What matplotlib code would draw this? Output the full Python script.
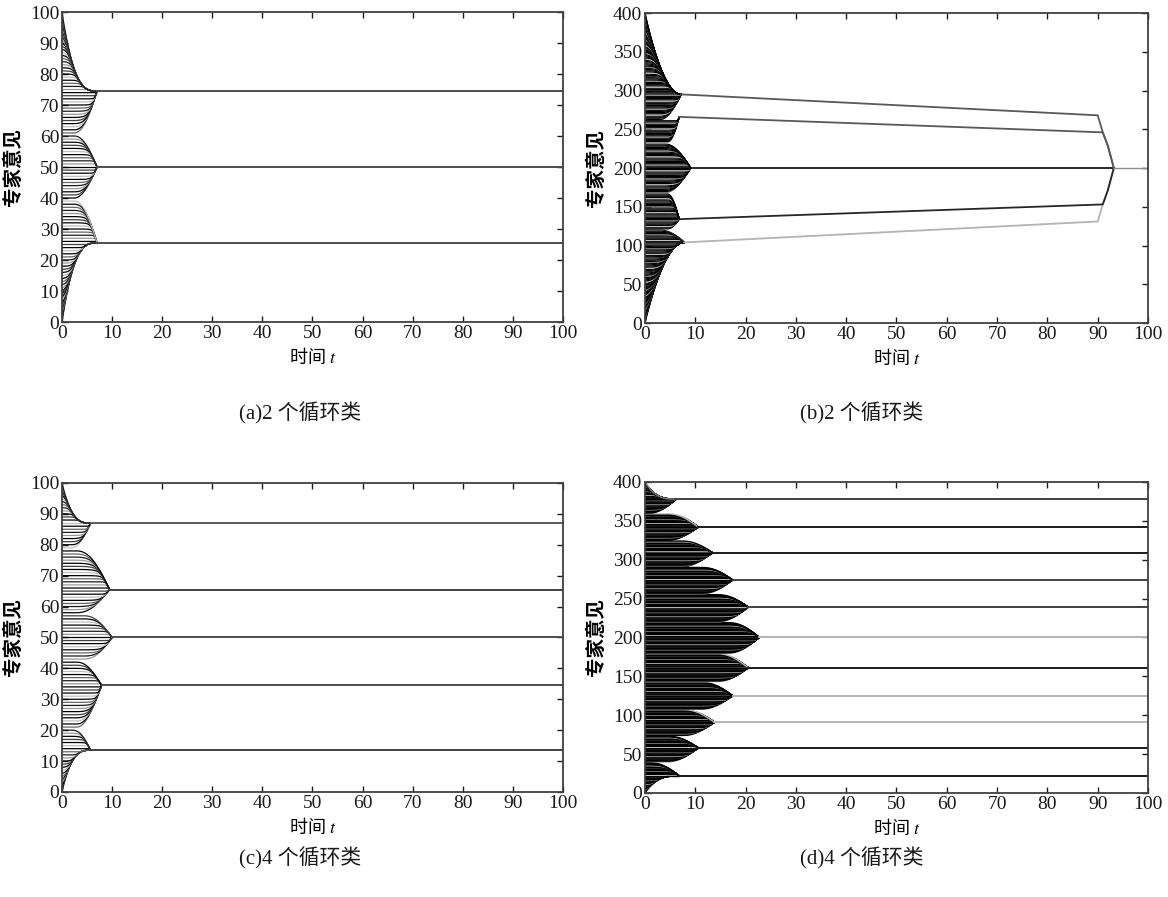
import matplotlib
matplotlib.use("Agg")
import matplotlib.pyplot as plt
import numpy as np

plt.rcParams["font.family"] = ["Liberation Serif", "Noto Sans CJK SC"]
plt.rcParams["mathtext.fontset"] = "stix"

# ---- panel (a): 3 clusters on 0..100
a_levels = [25.5, 50.0, 74.5]
a_bounds = [0, 40, 60.5, 100]
a_start = [2.5, 2.5, 2.5]
a_settle = [7.0, 7.0, 7.0]
a_colors = ["0.3", "0.3", "0.3"]

# ---- panel (b): 5 clusters on 0..400, drifting together at t~93
b_levels = [104, 134, 200, 266, 295]
b_bounds = [0, 121, 168, 232, 262, 400]
b_start = [3.0, 4.5, 4.0, 4.5, 3.0]
b_settle = [7.8, 6.8, 9.1, 6.8, 7.2]
b_colors = ["0.7", "0.15", "0.1", "0.35", "0.35"]
b_drift_t = [[7.8, 90, 91, 92, 93.2], [6.8, 91, 92, 93.2], [9.1, 93.2],
             [6.8, 91, 92, 93.2], [7.2, 90, 91, 92, 93.2]]
b_drift_y = [[104, 131, 153, 171, 200], [134, 153, 171, 200], [200, 200],
             [266, 246, 229, 200], [295, 268, 246, 229, 200]]
b_final_t = [93.2, 100]
b_final_y = [200, 200]

# ---- panel (c): 5 clusters on 0..100
c_levels = [13.5, 34.5, 50.0, 65.5, 87.0]
c_bounds = [0, 21, 42.5, 57.5, 79, 100]
c_start = [2.0, 3.0, 4.5, 3.0, 2.0]
c_settle = [5.7, 7.9, 10.0, 9.5, 5.7]
c_colors = ["0.25", "0.3", "0.3", "0.25", "0.35"]

# ---- panel (d): 11 clusters on 0..400
d_levels = [22, 58, 91, 125, 161, 200, 239, 274, 309, 342, 378]
d_bounds = [0, 40, 74, 108, 143, 180, 220, 256, 291, 325, 360, 400]
d_start = [1.0, 4.6, 7.8, 11.4, 14.5, 16.7, 14.5, 11.4, 7.4, 4.6, 1.0]
d_settle = [6.8, 10.6, 13.8, 17.4, 20.5, 22.7, 20.5, 17.4, 13.4, 10.6, 6.2]
d_colors = ["0.1", "0.1", "0.7", "0.7", "0.1", "0.7", "0.25", "0.25", "0.1", "0.1", "0.25"]

fan_shades = ["0.0", "0.25", "0.0", "0.6", "0.1", "0.4", "0.0", "0.75"]
dense_shades = ["0.0", "0.0", "0.0", "0.0", "0.5", "0.0", "0.0", "0.0",
                "0.15", "0.0", "0.0", "0.75"]


def draw_fan(ax, levels, bounds, start, settle, step, ymax, power, shades, lw):
    x0_all = np.arange(0, ymax + step * 0.5, step)
    basin = np.clip(np.searchsorted(bounds, x0_all, side="right") - 1,
                    0, len(levels) - 1)
    p = 4.0
    for i, x0 in enumerate(x0_all):
        k = basin[i]
        c, lo, hi = levels[k], bounds[k], bounds[k + 1]
        s, e = start[k], settle[k]
        t = np.linspace(0, e, int(e / 0.25) + 1)
        d = x0 - c
        if d < 0:
            r, edge = c - lo, lo == 0
        else:
            r, edge = hi - c, hi == ymax
        r = max(r, 1e-6)
        if edge:
            tau = np.clip(t / e, 0, 1)
            env = r * (1 - tau) ** power
        else:
            tau = np.clip((t - s) / (e - s), 0, 1)
            env = r * np.cos(np.pi / 2 * tau)
        env = np.maximum(env, 1e-6)
        a = max(abs(d), 1e-6)
        dist = (a ** -p + env ** -p - r ** -p) ** (-1 / p)
        y = c + np.sign(d) * dist
        ax.plot(t, y, color=shades[i % len(shades)], lw=lw)


def style_axes(ax, ymax, ystep):
    ax.set_xlim(0, 100)
    ax.set_ylim(0, ymax)
    ax.set_xticks(range(0, 101, 10))
    ax.set_yticks(range(0, ymax + 1, ystep))
    ax.tick_params(direction="in", top=True, right=True, length=4, width=1,
                   labelsize=14, pad=2, colors="0.1")
    for sp in ax.spines.values():
        sp.set_linewidth(1.3)
        sp.set_color("0.25")
    ax.set_ylabel("专家意见", fontsize=14, fontweight="bold",
                  family=["Noto Sans CJK SC"])
    ax.yaxis.set_label_coords(-0.078, 0.5)
    ax.set_xlabel("时间 $t$", fontsize=13, family=["Noto Sans CJK SC"],
                  labelpad=3)


fig = plt.figure(figsize=(11.68, 8.97), dpi=100)

ax_a = fig.add_axes([0.0531, 0.641, 0.4289, 0.3456])
draw_fan(ax_a, a_levels, a_bounds, a_start, a_settle, 1.0, 100, 3, fan_shades, 0.9)
for lv, st, col in zip(a_levels, a_settle, a_colors):
    ax_a.plot([st, 100], [lv, lv], color=col, lw=1.4)
style_axes(ax_a, 100, 10)

ax_b = fig.add_axes([0.5522, 0.6399, 0.4307, 0.3456])
draw_fan(ax_b, b_levels, b_bounds, b_start, b_settle, 1.5, 400, 2, dense_shades, 0.9)
for tt, yy, col in zip(b_drift_t, b_drift_y, b_colors):
    ax_b.plot(tt, yy, color=col, lw=1.3)
ax_b.plot(b_final_t, b_final_y, color="0.55", lw=1.0)
style_axes(ax_b, 400, 50)

ax_c = fig.add_axes([0.0531, 0.1171, 0.4289, 0.3445])
draw_fan(ax_c, c_levels, c_bounds, c_start, c_settle, 1.0, 100, 3, fan_shades, 0.9)
for lv, st, col in zip(c_levels, c_settle, c_colors):
    ax_c.plot([st, 100], [lv, lv], color=col, lw=1.4)
style_axes(ax_c, 100, 10)

ax_d = fig.add_axes([0.5522, 0.1160, 0.4307, 0.3467])
draw_fan(ax_d, d_levels, d_bounds, d_start, d_settle, 1.0, 400, 3, dense_shades, 1.0)
for lv, st, col in zip(d_levels, d_settle, d_colors):
    ax_d.plot([st, 100], [lv, lv], color=col, lw=1.4)
style_axes(ax_d, 400, 50)

caption_kw = dict(fontsize=15, ha="center", va="center", color="0.1")
fig.text(300 / 1168, 1 - 413 / 897, "(a)2 个循环类", **caption_kw)
fig.text(862 / 1168, 1 - 413 / 897, "(b)2 个循环类", **caption_kw)
fig.text(300 / 1168, 1 - 858 / 897, "(c)4 个循环类", **caption_kw)
fig.text(862 / 1168, 1 - 858 / 897, "(d)4 个循环类", **caption_kw)

fig.savefig("out.png", dpi=100)
